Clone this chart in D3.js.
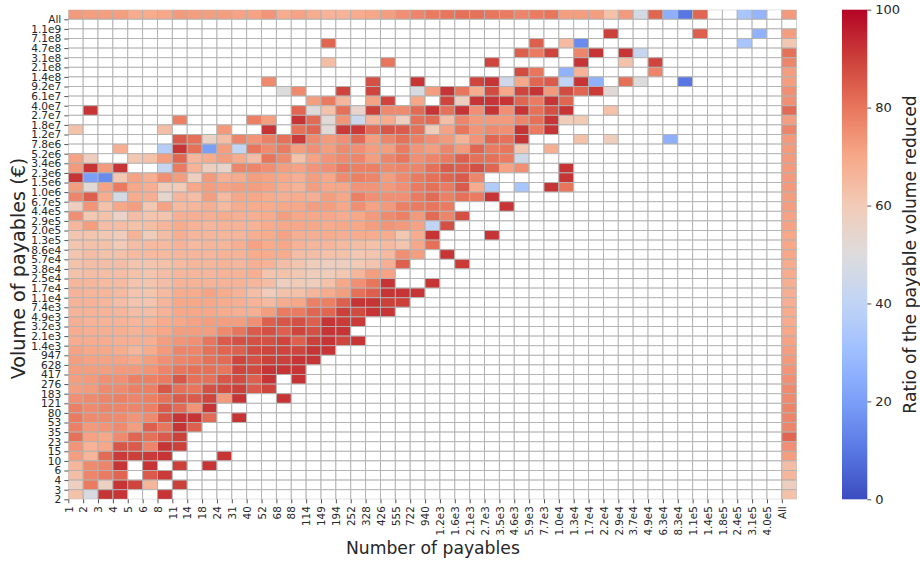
<!DOCTYPE html>
<html>
<head>
<meta charset="utf-8">
<script src="https://cdn.jsdelivr.net/npm/d3@7"></script>
<style>
html,body{margin:0;padding:0;background:#fff;}
svg{display:block;font-family:"DejaVu Sans",sans-serif;}
</style>
</head>
<body>
<svg id="chart" width="920" height="561"></svg>
<script>
const _ = null;
const payableCounts = ["1","2","3","4","5","6","8","11","14","18","24","31","40","52","68","88","114","149","194","252","328","426","555","722","940","1.2e3","1.6e3","2.1e3","2.7e3","3.5e3","4.6e3","5.9e3","7.7e3","1.0e4","1.3e4","1.7e4","2.2e4","2.9e4","3.7e4","4.9e4","6.3e4","8.3e4","1.1e5","1.4e5","1.8e5","2.4e5","3.1e5","4.0e5","All"];
const payableVolumes = ["All","1.1e9","7.1e8","4.7e8","3.1e8","2.1e8","1.4e8","9.2e7","6.1e7","4.0e7","2.7e7","1.8e7","1.2e7","7.8e6","5.2e6","3.4e6","2.3e6","1.5e6","1.0e6","6.7e5","4.4e5","2.9e5","2.0e5","1.3e5","8.6e4","5.7e4","3.8e4","2.5e4","1.7e4","1.1e4","7.4e3","4.9e3","3.2e3","2.1e3","1.4e3","947","628","417","276","183","121","80","53","35","23","15","10","6","4","3","2"];
const colorbarTicks = [0,20,40,60,80,100];
const coolwarmStops = ["#3b4cc0","#5977e3","#7b9ff9","#9ebeff","#c0d4f5","#dddcdc","#f2cbb7","#f7a889","#e8765c","#cc403a","#b40426"];

// Marginal row ("All" volume), one value per count column except the last
const allVolumeRow = [73,72,72,72,69,69,70,73,72,72,72,71,71,74,69,71,69,67,67,69,70,72,75,77,79,80,81,81,80,79,77,79,80,72,72,72,63,73,47,83,25,10,83,_,_,33,27,_];
// Marginal column ("All" count), one value per volume row, top to bottom
const allCountColumn = [73,_,72,61,81,77,72,72,75,75,82,72,77,73,73,73,73,73,73,72,72,71,71,70,70,70,69,69,68,68,68,69,69,70,71,72,73,74,75,76,76,77,77,77,83,75,72,64,66,58,63];

// Cells by volume row (top to bottom): sparse rows keyed by column index
const sparseTop = [
 {},
 {36:90,42:84,46:26},
 {17:83,31:84,33:65,34:15,45:33},
 {30:84,31:79,32:89,34:77,35:92,37:92,38:42},
 {17:64,21:80,28:89,34:92,37:63,39:89},
 {30:88,31:80,33:26,34:67,39:77},
 {13:76,20:87,23:92,27:89,28:92,29:45,30:70,31:83,32:85,33:40,34:92,35:26,37:81,38:50,41:10},
 {14:50,15:76,18:89,20:89,23:48,24:72,25:92,26:80,27:69,28:88,29:70,30:89,31:92,32:73,33:88,34:83,35:91,36:52},
 {16:72,17:79,18:66,20:71,21:89,23:70,25:89,26:58,27:92,28:92,29:92,30:83,31:79,32:92,33:83},
 {1:92,15:83,16:51,17:63,18:81,19:55,20:90,21:76,22:76,23:82,24:92,25:81,26:92,27:75,28:92,29:75,30:92,31:81,32:87,33:92,36:63},
 {7:78,12:78,13:72,15:92,16:82,17:52,18:74,19:44,20:66,21:69,22:58,23:81,24:82,25:64,26:77,27:73,28:73,29:73,30:77,31:81,32:92,33:59,34:60},
 {0:63,6:64,10:73,13:92,15:81,16:83,17:52,18:91,19:91,20:82,21:86,22:85,23:81,24:59,25:71,26:80,27:74,28:76,29:75,30:92,31:79,32:92},
 {7:85,8:81,9:56,10:64,11:77,12:74,13:78,14:81,15:91,16:76,17:73,18:75,19:82,20:72,21:77,22:81,23:78,24:75,25:73,26:67,27:74,28:83,29:81,30:92,34:63,36:58,40:25},
 {3:68,6:37,7:92,8:81,9:20,10:72,11:41,12:80,13:76,14:79,15:72,16:75,17:72,18:76,19:75,20:72,21:72,22:79,23:74,24:72,25:77,26:73,27:83,28:79,29:80,30:61,32:68}
];
// Dense rows, left to right, from 3.4e6 down to 2
const denseBottom = [
 [71,58,_,_,61,63,72,83,66,69,72,69,64,80,76,63,71,74,76,77,72,77,80,75,77,79,84,81,81,79,45],
 [73,92,73,92,_,_,42,79,67,58,55,77,77,75,72,71,74,75,79,78,78,76,77,77,81,85,84,87,83,71,75,_,_,92],
 [92,20,15,61,71,68,75,72,58,73,68,69,72,71,70,68,72,70,76,78,77,72,76,79,81,83,85,77,_,_,_,_,_,92],
 [72,52,71,79,70,68,59,60,70,72,71,72,72,71,69,67,72,70,70,74,74,73,75,79,81,79,85,69,36,_,33,_,92,80],
 [77,84,69,47,69,68,54,66,64,72,65,70,70,69,68,69,68,72,70,78,75,75,75,79,82,78,81,79,92],
 [58,74,63,70,72,61,71,65,66,68,65,69,69,69,70,70,72,72,70,75,71,73,78,79,80,79,_,_,_,92],
 [75,61,63,56,64,62,62,68,68,68,69,68,68,69,72,70,70,70,69,70,73,76,78,73,82,77,87],
 [66,72,64,64,63,64,66,69,67,66,67,67,67,69,70,70,70,69,70,70,72,74,73,71,40,87],
 [62,62,61,59,67,59,64,68,66,66,66,66,68,69,71,68,68,69,68,69,69,69,61,69,92,_,_,_,92],
 [62,63,63,60,64,65,65,67,65,66,66,68,71,69,70,67,66,66,65,64,63,65,62,70,81],
 [62,64,63,63,65,65,65,66,66,66,67,67,69,69,69,64,64,63,63,61,62,65,75,72,_,92],
 [63,64,64,64,62,62,63,65,66,66,67,66,68,67,64,62,59,58,58,60,62,68,84,_,_,_,91],
 [63,64,64,64,63,62,64,66,66,66,67,67,68,62,63,61,59,59,61,66,72,71],
 [66,66,65,65,62,62,64,67,67,67,67,67,66,64,58,60,59,63,70,75,80,92,_,_,92],
 [67,66,66,65,62,62,65,69,69,71,69,67,64,59,63,63,66,69,72,81,84,92,92,92],
 [67,67,66,64,62,62,66,70,70,70,69,68,67,65,69,70,78,78,84,92,92,90,90],
 [67,67,67,66,64,64,67,70,70,70,69,68,68,72,79,79,83,83,90,88,92,92],
 [68,67,67,67,66,66,69,70,71,72,72,72,75,84,86,87,84,92,91,91],
 [69,68,68,68,67,68,70,72,72,72,76,80,85,87,84,89,87,92,92],
 [69,69,69,68,68,68,72,74,75,80,85,87,87,87,89,84,90,92,89,92],
 [71,70,70,69,66,69,73,77,77,81,83,84,88,89,89,89,92,92],
 [72,71,71,71,70,72,75,77,78,81,82,89,87,90,90,92,92],
 [72,72,72,73,73,74,77,80,81,81,80,89,88,92,92,92],
 [72,73,75,75,78,78,79,86,81,81,86,88,84,92,_,92],
 [72,73,76,76,78,78,86,81,80,87,88,90,85,89],
 [75,76,77,78,77,78,81,85,85,89,73,92,_,_,92],
 [78,76,77,77,77,78,85,82,74,92],
 [79,76,76,76,74,76,86,92,92,82,_,92],
 [78,73,74,76,72,84,80,92,84],
 [81,71,70,76,83,81,85,90],
 [74,67,70,86,85,77,92,90],
 [72,66,82,91,90,91,92,_,_,_,92],
 [66,76,77,92,_,92,_,90,_,92],
 [64,77,79,83,_,85,91],
 [58,79,57,92,89,66,_,90],
 [63,48,92,92,_,_,92]
];

const plot = {left:68.3, right:796.7, top:9.7, bottom:499.3};
const bar = {left:842, right:867.3};
const ink = "#262626";
const gridColor = "#b2b2b2";

const svg = d3.select("#chart");

const x = d3.scaleBand().domain(payableCounts).range([plot.left, plot.right]).paddingInner(0).paddingOuter(0);
const y = d3.scaleBand().domain(payableVolumes).range([plot.top, plot.bottom]).paddingInner(0).paddingOuter(0);
const color = d3.scaleLinear().domain(d3.range(0,101,10)).range(coolwarmStops).clamp(true);

// Assemble one record per cell
const bodyRows = [...sparseTop, ...denseBottom];
const cells = [];
payableVolumes.forEach((vol, r) => {
  payableCounts.forEach((cnt, c) => {
    let v = null;
    if (r === 0) v = c === 48 ? allCountColumn[0] : allVolumeRow[c];
    else if (c === 48) v = allCountColumn[r];
    else {
      const row = bodyRows[r - 1];
      v = row && row[c] != null ? row[c] : null;
    }
    cells.push({vol, cnt, v});
  });
});

svg.append("defs").append("clipPath").attr("id","plotClip").append("rect")
  .attr("x",plot.left).attr("y",plot.top)
  .attr("width",plot.right-plot.left).attr("height",plot.bottom-plot.top);

svg.append("g").attr("clip-path","url(#plotClip)")
  .selectAll("rect").data(cells).join("rect")
  .attr("x",d=>x(d.cnt)).attr("y",d=>y(d.vol))
  .attr("width",x.bandwidth()).attr("height",y.bandwidth())
  .attr("fill",d=>d.v==null?"#fff":color(d.v))
  .attr("stroke",gridColor).attr("stroke-width",0.95);

// Axes: ticks sit on the cell edges (left edge for x, bottom edge for y)
const xTicks = d3.scalePoint().domain(payableCounts).range([plot.left, plot.right - x.bandwidth()]);
const yTicks = d3.scalePoint().domain(payableVolumes).range([plot.top + y.bandwidth(), plot.bottom]);

const gx = svg.append("g").attr("transform",`translate(0,${plot.bottom})`)
  .call(d3.axisBottom(xTicks).tickSize(4).tickPadding(3));
gx.select(".domain").remove();
gx.selectAll("line").attr("stroke",ink).attr("stroke-width",0.8);
gx.selectAll("text")
  .attr("transform","rotate(-90)")
  .attr("x",-7).attr("y",0).attr("dy","0.36em")
  .attr("text-anchor","end")
  .attr("fill",ink).style("font-size","10.3px").style("font-family","'DejaVu Sans'");

const gy = svg.append("g").attr("transform",`translate(${plot.left},0)`)
  .call(d3.axisLeft(yTicks).tickSize(4).tickPadding(3));
gy.select(".domain").remove();
gy.selectAll("line").attr("stroke",ink).attr("stroke-width",0.8);
gy.selectAll("text").attr("fill",ink).style("font-size","10.6px").style("font-family","'DejaVu Sans'");

svg.append("text").attr("x",432.9).attr("y",553.5).attr("text-anchor","middle")
  .attr("fill",ink).style("font-size","17.2px").text("Number of payables");
svg.append("text").attr("transform","translate(25,268.5) rotate(-90)").attr("text-anchor","middle")
  .attr("fill",ink).style("font-size","19.2px").text("Volume of payables (€)");

// Colour bar
const grad = svg.select("defs").append("linearGradient").attr("id","cbar")
  .attr("x1",0).attr("y1",1).attr("x2",0).attr("y2",0);
coolwarmStops.forEach((c,i)=>grad.append("stop").attr("offset",i/(coolwarmStops.length-1)).attr("stop-color",c));
const cScale = d3.scaleLinear().domain([0,100]).range([plot.bottom, plot.top]);
svg.append("rect").attr("x",bar.left).attr("y",plot.top)
  .attr("width",bar.right-bar.left).attr("height",plot.bottom-plot.top)
  .attr("fill","url(#cbar)");
const gc = svg.append("g").attr("transform",`translate(${bar.right},0)`)
  .call(d3.axisRight(cScale).tickValues(colorbarTicks).tickSize(4).tickPadding(4));
gc.select(".domain").remove();
gc.selectAll("line").attr("stroke",ink).attr("stroke-width",0.8);
gc.selectAll("text").attr("fill",ink).style("font-size","13px").style("font-family","'DejaVu Sans'");

svg.append("text").attr("transform","translate(915.5,254.5) rotate(-90)").attr("text-anchor","middle")
  .attr("fill",ink).style("font-size","17.2px").text("Ratio of the payable volume reduced");
</script>
</body>
</html>
